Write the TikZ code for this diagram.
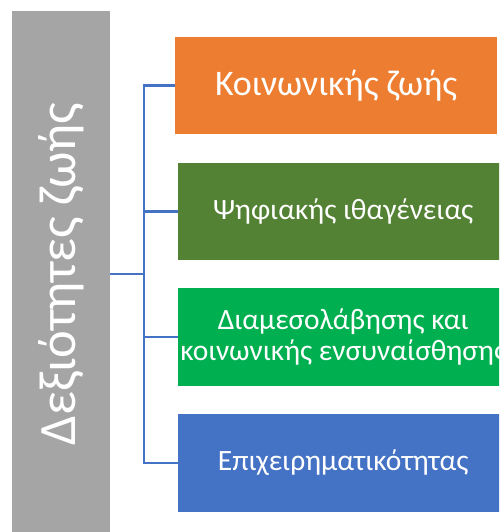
\documentclass[tikz,border=0pt]{standalone}
\usepackage{fontspec}
\setmainfont{Carlito}
\definecolor{sidegray}{HTML}{A5A5A5}
\definecolor{orangebox}{HTML}{ED7D31}
\definecolor{darkgreenbox}{HTML}{548235}
\definecolor{greenbox}{HTML}{00B050}
\definecolor{bluebox}{HTML}{4472C4}
\definecolor{linkblue}{HTML}{4472C4}
\begin{document}
\begin{tikzpicture}[x=1pt,y=1pt,
  box/.style={minimum width=330pt, minimum height=97pt, inner sep=0pt, text=white, anchor=west, align=center, font=\fontsize{29.5}{31}\selectfont},
  conn/.style={draw=linkblue, line width=2.8pt}]
\useasboundingbox (0,0) rectangle (499,532);
\clip (0,0) rectangle (499,532);
\node[fill=sidegray, minimum width=526pt, minimum height=98pt, rotate=90, text=white, inner sep=0pt, font=\fontsize{52.5}{60}\selectfont] (side) at (61,258) {Δεξιότητες ζωής};
\node[box, fill=orangebox, minimum width=322pt, font=\fontsize{36}{40}\selectfont] (b1) at (175,446.5) {Κοινωνικής ζωής};
\node[box, fill=darkgreenbox] (b2) at (178,320.5) {Ψηφιακής ιθαγένειας};
\node[box, fill=greenbox, minimum height=98pt] (b3) at (178,195) {Διαμεσολάβησης και\\κοινωνικής ενσυναίσθησης};
\node[box, fill=bluebox, minimum height=98pt] (b4) at (178,69) {Επιχειρηματικότητας};
\coordinate (hub) at (144,258);
\draw[conn] (side.south) -- (hub);
\draw[conn] (b1.west) -| (hub) |- (b4.west);
\draw[conn] (hub) |- (b2.west);
\draw[conn] (hub) |- (b3.west);
\end{tikzpicture}
\end{document}
